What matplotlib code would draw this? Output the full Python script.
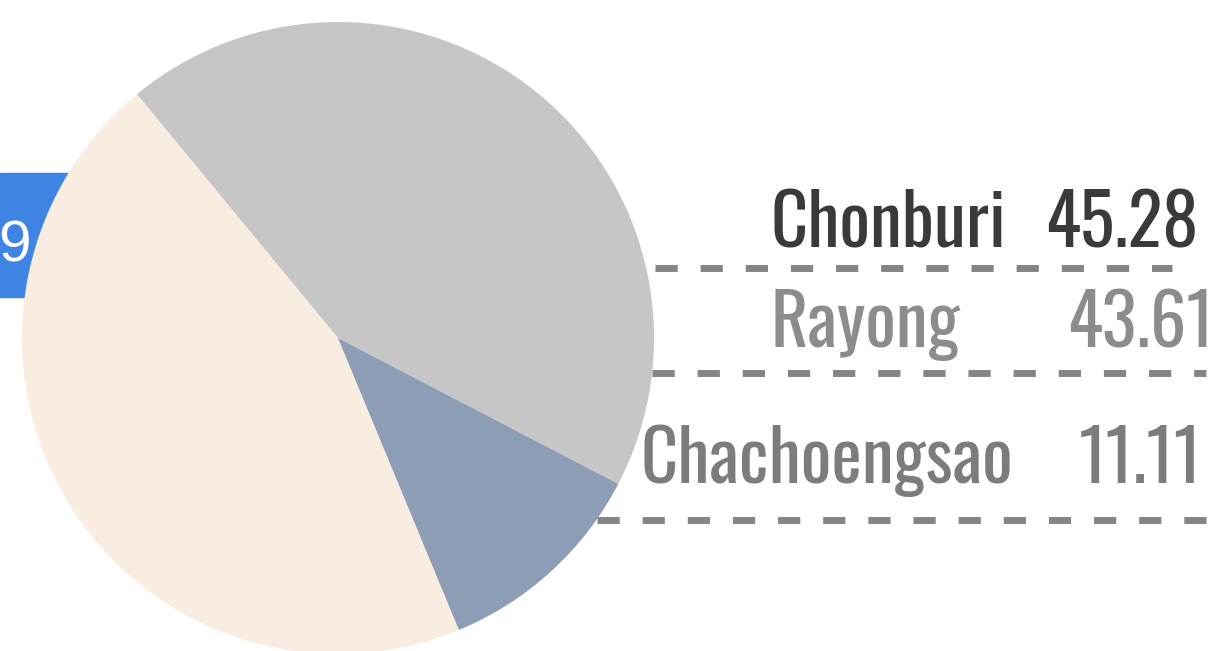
import matplotlib
matplotlib.use('Agg')
import matplotlib.pyplot as plt
from matplotlib.patches import Rectangle

# data
regions = ['Chonburi', 'Rayong', 'Chachoengsao']
shares = [45.28, 43.61, 11.11]
slice_colors = ['#f9ece0', '#c6c6c6', '#8d9db5']
label_colors = ['#3a3a3a', '#8c8c8c', '#7c7c7c']
label_weights = ['normal', 'light', 'light']

W, H = 1225, 651
fig = plt.figure(figsize=(W / 100, H / 100), dpi=100)
ax = fig.add_axes([0, 0, 1, 1])

# blue tag partly hidden behind the pie
ax.add_patch(Rectangle((0, H - 297), 80, 124, color='#3f84e2', zorder=0))
ax.text(-2, H - 247, '9', color='white', fontsize=42, family='Liberation Sans',
        ha='left', va='center', zorder=0.5)

ax.pie(shares, colors=slice_colors, startangle=-67.5, counterclock=False,
       center=(338, H - 338), radius=316,
       wedgeprops=dict(linewidth=0), frame=True)

narrow = ['Oswald', 'Barlow Condensed', 'DejaVu Sans']
label_x = [888, 865, 827]
value_x = [1122, 1140, 1140]
base_y = [247, 347, 483]
for name, val, col, wt, lx, vx, by in zip(regions, shares, label_colors, label_weights,
                                          label_x, value_x, base_y):
    ax.text(lx, H - by, name, color=col, fontsize=52, family=narrow, weight=wt,
            ha='center', va='baseline')
    ax.text(vx, H - by, f'{val:.2f}', color=col, fontsize=52, family=narrow, weight=wt,
            ha='center', va='baseline')

# dashed separators
for y, x0, x1 in [(268, 655, 1172), (373, 652, 1206), (520, 597, 1206)]:
    ax.plot([x0, x1], [H - y, H - y], color='#858585', linewidth=5,
            linestyle=(0, (3.2, 3.3)), solid_capstyle='butt')

ax.set_xlim(0, W)
ax.set_ylim(0, H)
ax.set_aspect('auto')
ax.axis('off')

plt.savefig('out.png', dpi=100)
plt.close()
